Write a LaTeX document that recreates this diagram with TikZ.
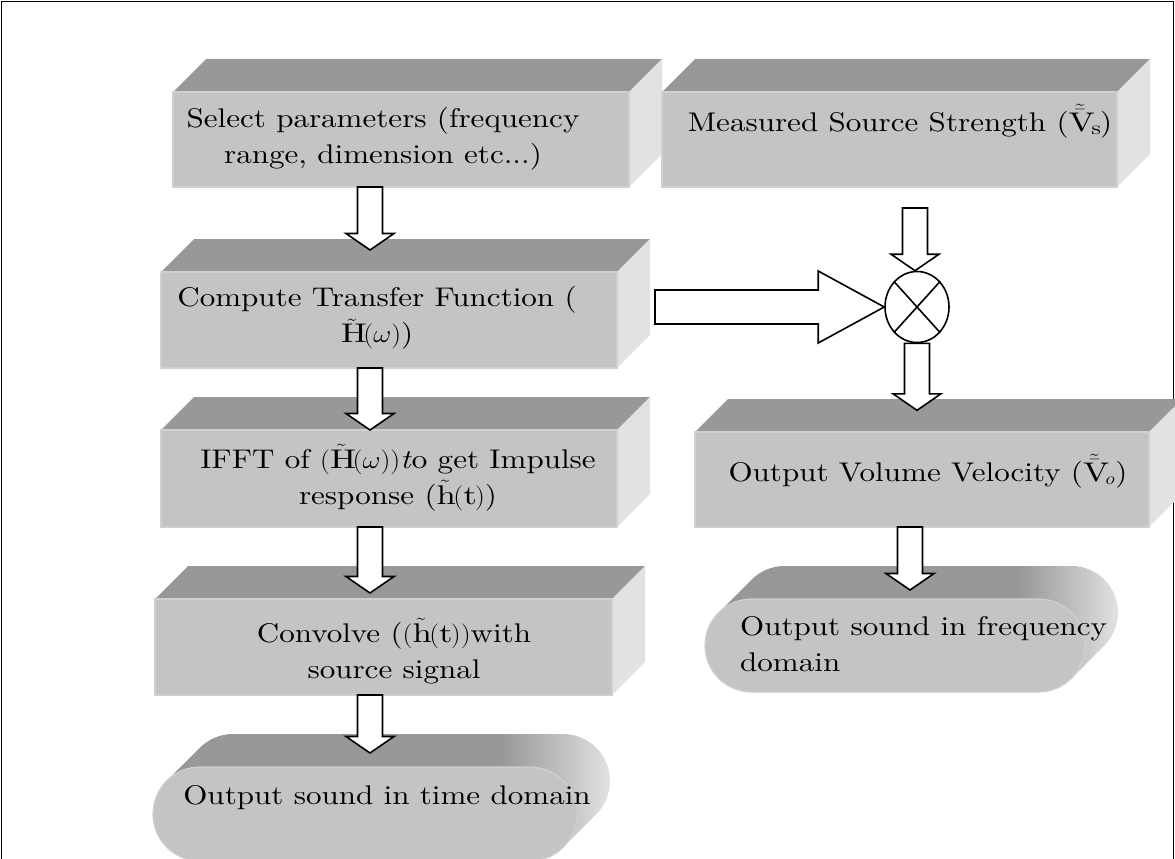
\documentclass[tikz,border=0pt]{standalone}
\usepackage{fontspec}
\setmainfont{lmroman10-regular.otf}[ItalicFont=lmroman10-italic.otf, FakeStretch=1.15]
\usetikzlibrary{calc,shapes.geometric}
\definecolor{topc}{HTML}{989898}
\definecolor{frontc}{HTML}{C4C4C4}
\definecolor{sidec}{HTML}{E2E2E2}
\definecolor{edgec}{HTML}{D0D0D0}
\definecolor{midc}{HTML}{C8C8C8}
\definecolor{mathc}{HTML}{2A2A3A}
\pgfdeclarehorizontalshading{ovsh}{100bp}{color(0bp)=(topc); color(25bp)=(topc); color(63bp)=(topc); color(71bp)=(midc); color(75bp)=(sidec); color(100bp)=(sidec)}
\newcommand\cubebox[5]{%
  \fill[topc] (#2,#3) -- (#2+33,#3-33) -- (#4+33,#3-33) -- (#4,#3) -- cycle;
  \fill[sidec] (#4,#3) -- (#4+33,#3-33) -- (#4+33,#5-33) -- (#4,#5) -- cycle;
  \node[frontbox, minimum width={#4-#2}, minimum height={#5-#3}] (#1) at ({(#2+#4)/2},{(#3+#5)/2}) {};
}
% oval: name x1 y1 x2 y2 radius
\newcommand\ovalbox[6]{%
  \shade[shading=ovsh]
    ({#2+#6-0.7071*#6},{(#3+#5)/2-0.7071*#6})
    -- ({#2+#6-0.7071*#6+33},{(#3+#5)/2-0.7071*#6-33})
    arc[start angle=225, end angle=270, radius=#6]
    -- ({#4-#6+33},{#3-33})
    arc[start angle=270, end angle=405, radius=#6]
    -- ({#4-#6+0.7071*#6},{(#3+#5)/2+0.7071*#6})
    arc[start angle=45, end angle=90, radius=#6]
    -- ({#2+#6},{#5})
    arc[start angle=90, end angle=225, radius=#6] -- cycle;
  \draw[draw=edgec, line width=1.2pt, fill=frontc, rounded corners=#6] (#2,#3) rectangle (#4,#5);
  \coordinate (#1) at ({(#2+#4)/2},{(#3+#5)/2});
}
\newcommand\mth[1]{\scalebox{1.12}[1]{$#1$}}
\tikzset{
  frontbox/.style={draw=edgec, line width=1.2pt, fill=frontc, inner sep=0pt, rectangle},
  arrowbox/.style={draw=black, fill=white, line width=1.6pt, line join=miter},
  blockdown/.style={to path={let \p1=(\tikztostart), \p2=(\tikztotarget) in
     (\x1-12.5pt,\y1) -- (\x1-12.5pt,\y2+16.5pt) -- (\x1-24pt,\y2+16.5pt) -- (\x1,\y2)
     -- (\x1+24pt,\y2+16.5pt) -- (\x1+12.5pt,\y2+16.5pt) -- (\x1+12.5pt,\y1) -- cycle}},
  blockright/.style={to path={let \p1=(\tikztostart), \p2=(\tikztotarget) in
     (\x1,\y1+17pt) -- (\x2-66pt,\y1+17pt) -- (\x2-66pt,\y1+36pt) -- (\x2,\y1)
     -- (\x2-66pt,\y1-36pt) -- (\x2-66pt,\y1-17pt) -- (\x1,\y1-17pt) -- cycle}},
  lbl/.style={inner sep=0pt, align=center, font=\fontsize{27}{36}\selectfont},
}
\begin{document}
\begin{tikzpicture}[x=1pt,y=-1pt]
\useasboundingbox (0,0) rectangle (1175,859);
\clip (0,0) rectangle (1175,859);
\draw[line width=1.5pt] (1.5,1.5) rectangle (1173.5,900);

\cubebox{b1}{173}{92}{629}{187}
\cubebox{b2}{662}{92}{1117}{187}
\cubebox{b3}{161}{272}{617}{368}
\cubebox{b4}{161}{430}{617}{527}
\cubebox{b5}{155}{599}{612}{695}
\cubebox{b6}{695}{432}{1149}{527}
\ovalbox{o1}{153}{767}{577}{861}{47}
\ovalbox{o2}{705}{599}{1085}{692}{46.5}

\node[lbl] (t1) at (383,139) {Select parameters (frequency\\range, dimension etc...)};
\node[lbl, anchor=base] (t2) at (900,131) {Measured Source Strength (\mth{\tilde{\bar{\mathrm{V}}}_{\mathrm{s}}})};
\node[lbl] (t3) at (377,318) {Compute Transfer Function (\\\mth{\tilde{\mathrm{H}}(\omega)})};
\node[lbl] (t4) at (398,478) {IFFT of \mth{(\tilde{\mathrm{H}}(\omega))}\textit{t}o get Impulse\\response (\mth{\tilde{\mathrm{h}}(\mathrm{t})})};
\node[lbl] (t5) at (394,651) {Convolve (\mth{(\tilde{\mathrm{h}}(\mathrm{t}))}with\\source signal};
\node[lbl, anchor=base] (t6) at (928,481) {Output Volume Velocity (\mth{\tilde{\bar{\mathrm{V}}}_{o}})};
\node[lbl, anchor=base] (t7) at (387,804) {Output sound in time domain};
\node[lbl, anchor=west, align=left] (t8) at (740,644) {Output sound in frequency\\domain};

\node[draw, ellipse, line width=1.6pt, minimum width=64pt, minimum height=71pt, inner sep=0pt] (mult) at (917,307) {};
\draw[line width=1.6pt] (mult.north east) -- (mult.south west) (mult.north west) -- (mult.south east);

\coordinate (a1s) at (370,187); \coordinate (a1t) at (370,250);
\coordinate (a2s) at (370,368); \coordinate (a2t) at (370,430);
\coordinate (a3s) at (370,527); \coordinate (a3t) at (370,593);
\coordinate (a4s) at (370,695); \coordinate (a4t) at (370,753);
\coordinate (a5s) at (915,208);
\coordinate (a7s) at (910,527); \coordinate (a7t) at (910,590);
\coordinate (hs) at (655,307);

\draw[arrowbox, blockdown] (a1s) to (a1t);
\draw[arrowbox, blockdown] (a2s) to (a2t);
\draw[arrowbox, blockdown] (a3s) to (a3t);
\draw[arrowbox, blockdown] (a4s) to (a4t);
\draw[arrowbox, blockdown] (a5s) to (mult.north);
\draw[arrowbox, blockdown] (mult.south) to ($(mult.south)+(0,67)$);
\draw[arrowbox, blockdown] (a7s) to (a7t);
\draw[arrowbox, blockright] (hs) to (mult.west);
\end{tikzpicture}
\end{document}
